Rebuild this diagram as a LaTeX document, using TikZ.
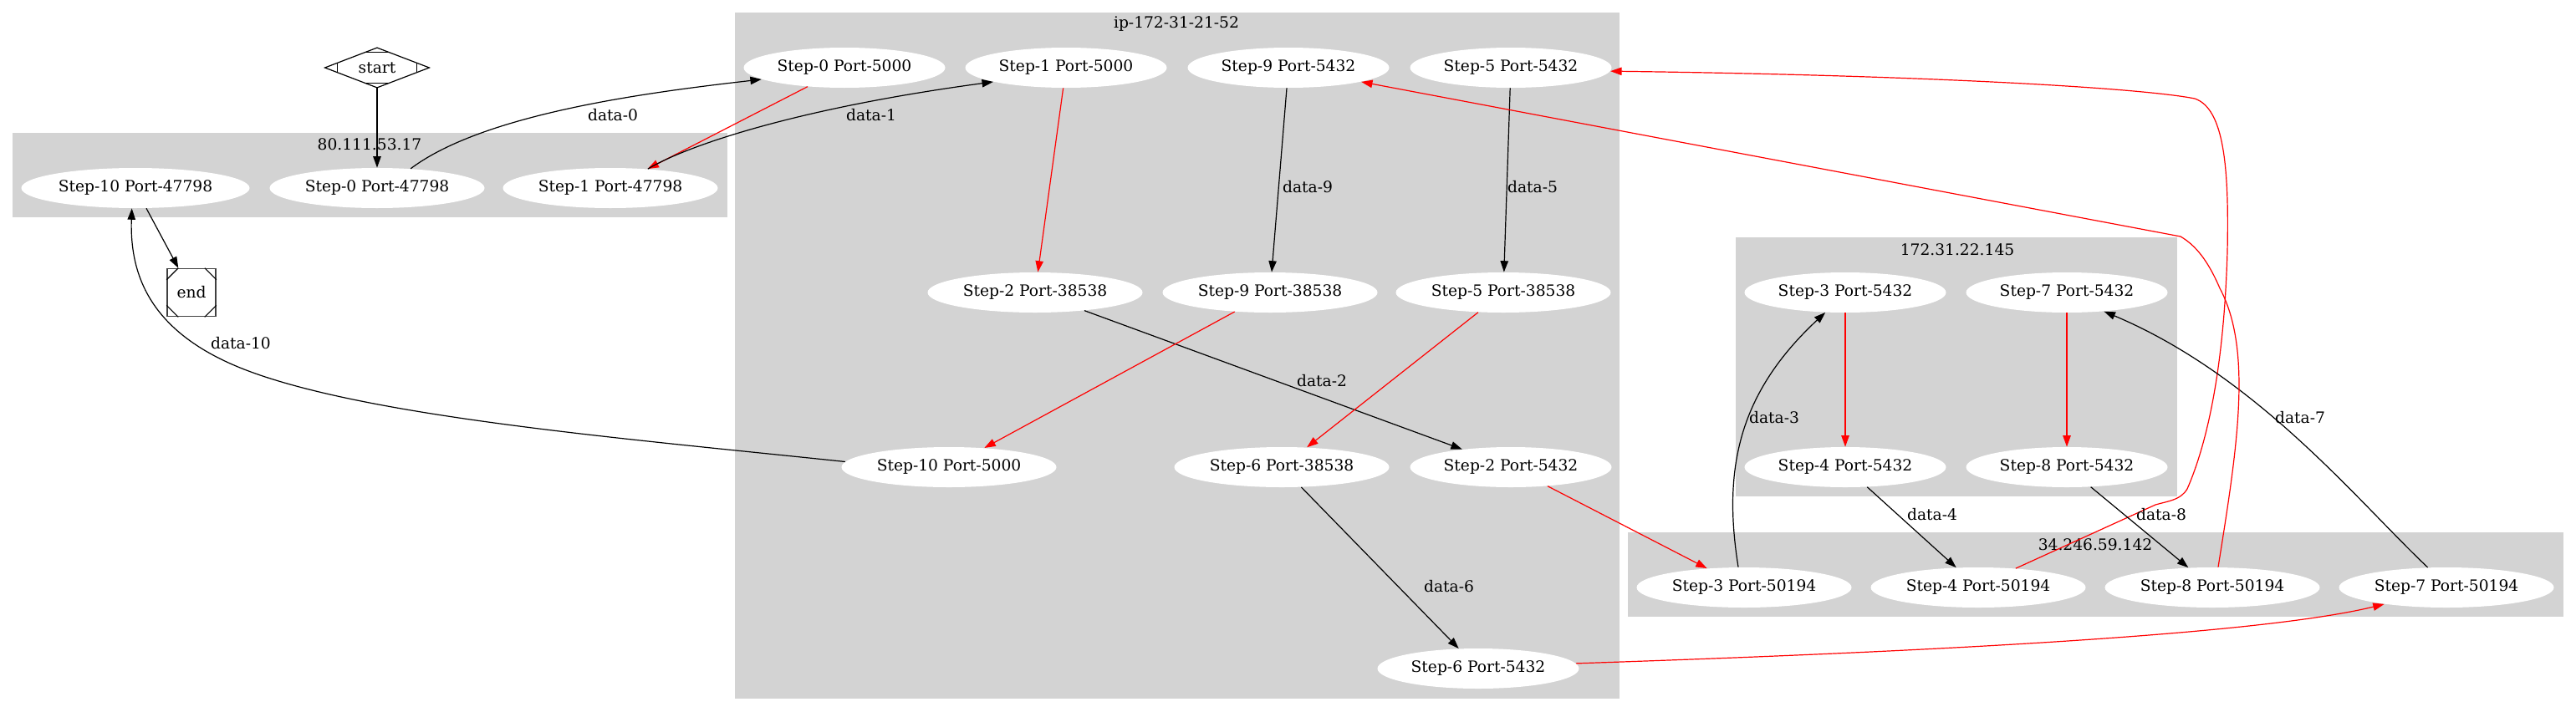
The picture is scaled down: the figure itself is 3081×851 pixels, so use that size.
\documentclass[tikz,border=0pt]{standalone}
\usepackage{fontspec}
\setmainfont{DejaVu Serif}
\usetikzlibrary{shapes.geometric,arrows.meta,calc}
\definecolor{clgray}{RGB}{211,211,211}
\tikzset{
  ell/.style={ellipse, fill=white, draw=none, inner sep=0pt, minimum height=24pt, minimum width=#1},
  ell/.default=128.5pt,
  clus/.style={fill=clgray, draw=none},
  e/.style={draw=black, line width=0.6pt, -{Triangle[length=6.7pt,width=4.7pt]}},
  re/.style={e, draw=red, -{Triangle[length=6.7pt,width=4.7pt,fill=red]}},
  lbl/.style={inner sep=0pt},
}
\begin{document}
\begin{tikzpicture}[x=0.5pt, y=-0.5pt, font=\fontsize{9.33}{11}\selectfont]
\useasboundingbox (0,0) rectangle (3081,851);
% clusters
\fill[clus] (15,159) rectangle (870,260);
\fill[clus] (879,15) rectangle (1937,836);
\fill[clus] (2076,284) rectangle (2604,594);
\fill[clus] (1947,637) rectangle (3066,738);
\node[lbl] (c1) at (442,173) {80.111.53.17};
\node[lbl] (c2) at (1407,29) {ip-172-31-21-52};
\node[lbl] (c3) at (2341,299) {172.31.22.145};
\node[lbl] (c4) at (2506,652) {34.246.59.142};
% start / end
\node[rectangle, minimum width=62pt, minimum height=23.5pt, inner sep=0pt] (start) at (451,81) {start};
\draw[line width=0.6pt] (start.north) -- (start.east) -- (start.south) -- (start.west) -- cycle;
\draw[line width=0.6pt] ($(start.north)!0.21!(start.west)$) -- ($(start.north)!0.21!(start.east)$);
\draw[line width=0.6pt] ($(start.south)!0.21!(start.west)$) -- ($(start.south)!0.21!(start.east)$);
\draw[line width=0.6pt] ($(start.west)!0.24!(start.north)$) -- ($(start.west)!0.24!(start.south)$);
\draw[line width=0.6pt] ($(start.east)!0.24!(start.north)$) -- ($(start.east)!0.24!(start.south)$);
\node[rectangle, draw=black!75, line width=0.8pt, minimum width=29pt, minimum height=28.5pt, inner sep=0pt] (endn) at (229,350) {end};
\draw[line width=0.6pt] ([xshift=7pt]endn.north west) -- ([yshift=-7pt]endn.north west);
\draw[line width=0.6pt] ([xshift=-7pt]endn.north east) -- ([yshift=-7pt]endn.north east);
\draw[line width=0.6pt] ([xshift=7pt]endn.south west) -- ([yshift=7pt]endn.south west);
\draw[line width=0.6pt] ([xshift=-7pt]endn.south east) -- ([yshift=7pt]endn.south east);
% nodes
\node[ell=136.5pt] (n10b) at (162,225) {Step-10 Port-47798};
\node[ell] (n0a) at (451,225) {Step-0 Port-47798};
\node[ell] (n1a) at (730,225) {Step-1 Port-47798};
\node[ell=120.5pt] (n0b) at (1010,81) {Step-0 Port-5000};
\node[ell=120.5pt] (n1b) at (1275,81) {Step-1 Port-5000};
\node[ell=120.5pt] (n9a) at (1541,81) {Step-9 Port-5432};
\node[ell=120.5pt] (n5a) at (1807,81) {Step-5 Port-5432};
\node[ell] (n2a) at (1238,350) {Step-2 Port-38538};
\node[ell] (n9b) at (1519,350) {Step-9 Port-38538};
\node[ell] (n5b) at (1798,350) {Step-5 Port-38538};
\node[ell] (n10a) at (1135,559) {Step-10 Port-5000};
\node[ell] (n6a) at (1533,559) {Step-6 Port-38538};
\node[ell=120.5pt] (n2b) at (1807,559) {Step-2 Port-5432};
\node[ell=120.5pt] (n6b) at (1768,800) {Step-6 Port-5432};
\node[ell=120.5pt] (n3a) at (2207,350) {Step-3 Port-5432};
\node[ell=120.5pt] (n7a) at (2472,350) {Step-7 Port-5432};
\node[ell=120.5pt] (n4a) at (2207,559) {Step-4 Port-5432};
\node[ell=120.5pt] (n8a) at (2472,559) {Step-8 Port-5432};
\node[ell] (n3b) at (2086,703) {Step-3 Port-50194};
\node[ell] (n4b) at (2366,703) {Step-4 Port-50194};
\node[ell] (n8b) at (2646,703) {Step-8 Port-50194};
\node[ell] (n7b) at (2926,703) {Step-7 Port-50194};
% edges
\draw[e] (start) -- (n0a);
\draw[e] (n0a.30) .. controls (580,135) and (780,110) .. (n0b.188);
\draw[re] (n0b) -- (n1a);
\draw[e] (n1a.27) .. controls (820,175) and (950,130) .. (n1b.191);
\draw[re] (n1b) -- (n2a);
\draw[e] (n2a) -- (n2b);
\draw[re] (n2b) -- (n3b);
\draw[e] (n3b.106) .. controls (2060,560) and (2080,470) .. (n3a.225);
\draw[re] (n3a) -- (n4a);
\draw[e] (n4a) -- (n4b);
\draw[re] (n4b.27) -- (2578,604) .. controls (2596,599) and (2608,598) .. (2616,585)
   .. controls (2640,530) and (2660,440) .. (2664,300)
   .. controls (2666,200) and (2660,130) .. (2625,118)
   .. controls (2560,105) and (2300,90) .. (n5a.-2);
\draw[e] (n5a) -- (n5b);
\draw[re] (n5b) -- (n6a);
\draw[e] (n6a) -- (n6b);
\draw[re] (n6b.3) .. controls (2300,780) and (2700,760) .. (n7b.195);
\draw[e] (n7b.133) .. controls (2820,600) and (2700,450) .. (n7a.-27);
\draw[re] (n7a) -- (n8a);
\draw[e] (n8a) -- (n8b);
\draw[re] (n8b.74) .. controls (2675,540) and (2695,420) .. (2655,345)
   .. controls (2640,310) and (2625,293) .. (2608,283) -- (n9a.-11);
\draw[e] (n9a) -- (n9b);
\draw[re] (n9b) -- (n10a);
\draw[e] (n10a.177) .. controls (750,525) and (450,500) .. (300,445)
   .. controls (180,401) and (155,330) .. (n10b.260);
\draw[e] (n10b) -- (endn);
% edge labels
\node[lbl] (l0) at (733,138) {data-0};
\node[lbl] (l1) at (1042,138) {data-1};
\node[lbl] (l9) at (1564,224) {data-9};
\node[lbl] (l5) at (1833,224) {data-5};
\node[lbl] (l2) at (1581,456) {data-2};
\node[lbl] (l6) at (1733,702) {data-6};
\node[lbl] (l3) at (2122,500) {data-3};
\node[lbl] (l7) at (2751,500) {data-7};
\node[lbl] (l4) at (2311,616) {data-4};
\node[lbl] (l8) at (2585,616) {data-8};
\node[lbl] (l10) at (288,411) {data-10};
\end{tikzpicture}
\end{document}
